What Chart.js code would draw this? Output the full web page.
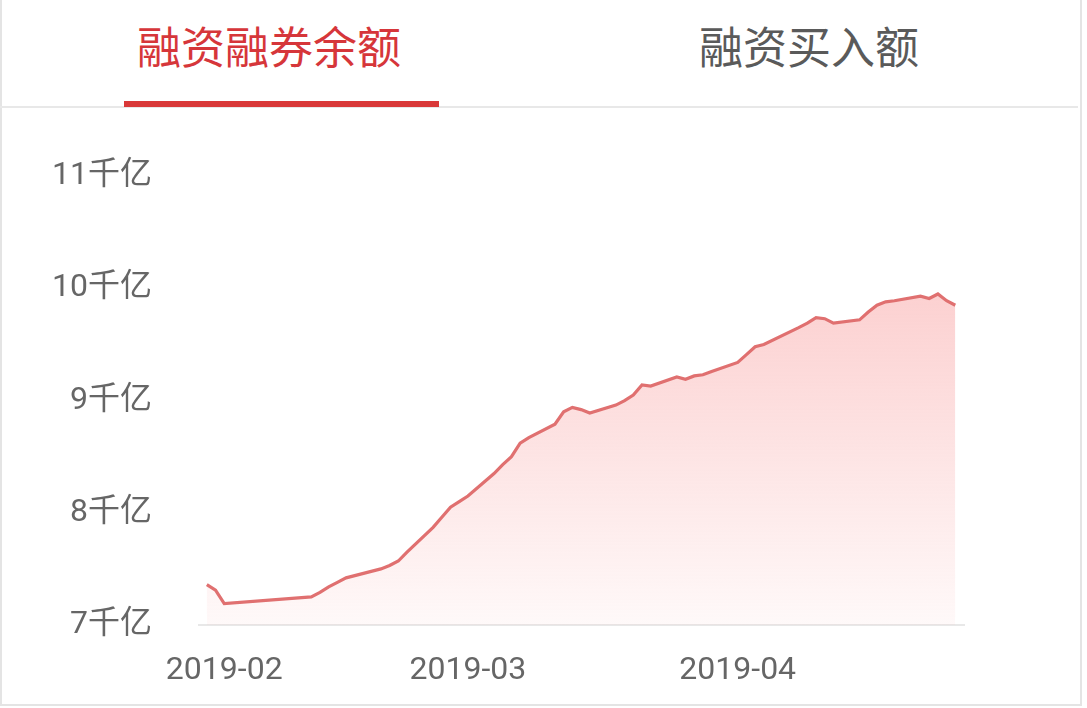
<!DOCTYPE html>
<html>
<head>
<meta charset="utf-8">
<script src="https://cdn.jsdelivr.net/npm/chart.js@4.4.1/dist/chart.umd.min.js"></script>
<style>
  html, body { margin: 0; padding: 0; background: #fff; }
  body { width: 1087px; height: 708px; position: relative; overflow: hidden;
         font-family: Roboto, "Noto Sans CJK SC", sans-serif; }
  .card { position: absolute; left: 0; top: 0; width: 1078px; height: 704px;
          border: 2px solid #e4e4e4; border-top: none; }
  .tab { position: absolute; top: 18px; font-size: 44px; line-height: 54px;
         font-family: "Noto Sans CJK SC", sans-serif; }
  .tab1 { left: 137px; color: #d6363a; }
  .tab2 { left: 699px; color: #5a5a5a; }
  .sep { position: absolute; left: 0; top: 106px; width: 1078px; height: 2px; background: #e8e8e8; }
  .bar { position: absolute; left: 124px; top: 101px; width: 315px; height: 6px; background: #d93838; }
  .wrap { position: absolute; left: 0; top: 110px; width: 1087px; height: 596px; }
</style>
</head>
<body>
<div class="card"></div>
<div class="tab tab1">融资融券余额</div>
<div class="tab tab2">融资买入额</div>
<div class="sep"></div>
<div class="bar"></div>
<div class="wrap"><canvas id="marginChart"></canvas></div>
<script>
// trading days and balance (千亿)
const dates = [
    '2019-01-30', '2019-01-31', '2019-02-01',
    '2019-02-11', '2019-02-12', '2019-02-13', '2019-02-14', '2019-02-15',
    '2019-02-18', '2019-02-19', '2019-02-20', '2019-02-21', '2019-02-22',
    '2019-02-25', '2019-02-26', '2019-02-27', '2019-02-28', '2019-03-01',
    '2019-03-04', '2019-03-05', '2019-03-06', '2019-03-07', '2019-03-08',
    '2019-03-11', '2019-03-12', '2019-03-13', '2019-03-14', '2019-03-15',
    '2019-03-18', '2019-03-19', '2019-03-20', '2019-03-21', '2019-03-22',
    '2019-03-25', '2019-03-26', '2019-03-27', '2019-03-28', '2019-03-29',
    '2019-04-01', '2019-04-02', '2019-04-03', '2019-04-04',
    '2019-04-08', '2019-04-09', '2019-04-10', '2019-04-11', '2019-04-12',
    '2019-04-15', '2019-04-16', '2019-04-17', '2019-04-18', '2019-04-19',
    '2019-04-22', '2019-04-23', '2019-04-24', '2019-04-25', '2019-04-26'
];
const balance = [
    7.36, 7.31, 7.19,
    7.25, 7.29, 7.34, 7.38, 7.42,
    7.48, 7.50, 7.53, 7.57, 7.65,
    7.87, 7.96, 8.05, 8.10, 8.15,
    8.35, 8.43, 8.50, 8.62, 8.67,
    8.79, 8.90, 8.94, 8.92, 8.89,
    8.96, 9.00, 9.05, 9.14, 9.13,
    9.21, 9.19, 9.22, 9.23, 9.26,
    9.34, 9.41, 9.48, 9.50,
    9.65, 9.69, 9.74, 9.73, 9.69,
    9.72, 9.79, 9.85, 9.88, 9.89,
    9.93, 9.91, 9.95, 9.89, 9.85
];
const tickDates = ['2019-02-01', '2019-03-01', '2019-04-01'];
const tickLabels = ['2019-02', '2019-03', '2019-04'];
const yTicks = [7, 8, 9, 10, 11];

const DAY = 86400000;
const base = Date.parse('2019-02-01');
const toDay = d => Math.round((Date.parse(d) - base) / DAY);
const points = dates.map((d, i) => ({ x: toDay(d), y: balance[i] }));
const tickDays = tickDates.map(toDay);

const ctx = document.getElementById('marginChart').getContext('2d');
const marginChart = new Chart(ctx, {
    type: 'line',
    data: {
        datasets: [{
            data: points,
            borderColor: '#e07070',
            borderWidth: 3.2,
            pointRadius: 0,
            tension: 0,
            fill: 'start',
            backgroundColor: function(context) {
                const area = context.chart.chartArea;
                if (!area) return 'rgba(250,200,200,0.3)';
                const g = context.chart.ctx.createLinearGradient(0, area.top + 120, 0, area.bottom);
                g.addColorStop(0, 'rgba(248,150,150,0.44)');
                g.addColorStop(1, 'rgba(248,150,150,0.06)');
                return g;
            }
        }]
    },
    options: {
        responsive: true,
        maintainAspectRatio: false,
        animation: false,
        layout: {
            padding: { top: 62, right: 123, bottom: 0, left: 0 }
        },
        scales: {
            x: {
                type: 'linear',
                min: -2.9,
                max: 85,
                grid: { display: false, drawTicks: false },
                border: { display: true, color: '#e8e8e8', width: 2 },
                afterBuildTicks: scale => {
                    scale.ticks = tickDays.map(v => ({ value: v }));
                },
                afterFit: scale => { scale.height = 81; },
                ticks: {
                    autoSkip: false,
                    maxRotation: 0,
                    padding: 27,
                    color: '#666',
                    font: { family: 'Roboto, "Noto Sans CJK SC"', size: 32 },
                    callback: value => tickLabels[tickDays.indexOf(value)]
                }
            },
            y: {
                min: 7,
                max: 11,
                grid: { display: false, drawTicks: false },
                border: { display: false },
                afterBuildTicks: scale => {
                    scale.ticks = yTicks.map(v => ({ value: v }));
                },
                afterFit: scale => { scale.width = 199; },
                ticks: {
                    padding: 47,
                    color: '#666',
                    font: { family: 'Roboto, "Noto Sans CJK SC"', size: 32 },
                    callback: value => value + '千亿'
                }
            }
        },
        plugins: {
            legend: { display: false },
            tooltip: { enabled: false }
        }
    }
});
</script>
</body>
</html>
